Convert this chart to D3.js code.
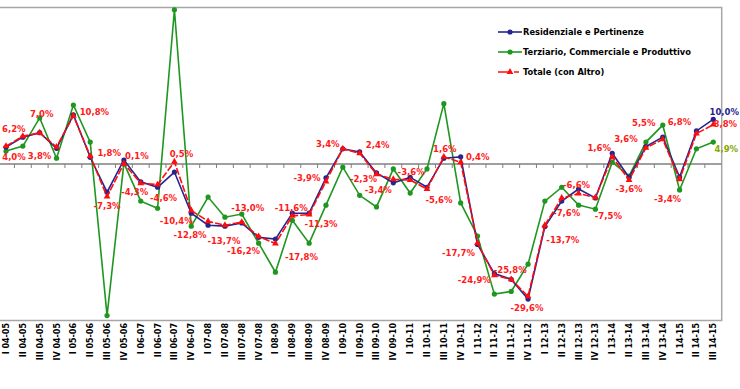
<!DOCTYPE html>
<html><head><meta charset="utf-8">
<script src="https://cdn.jsdelivr.net/npm/d3@7"></script>
<style>body{margin:0;background:#fff;overflow:hidden}svg{display:block}</style>
</head><body>
<svg id="chart" width="740" height="389"></svg>
<script>
const categories = ["I 04-05","II 04-05","III 04-05","IV 04-05","I 05-06","II 05-06","III 05-06","IV 05-06","I 06-07","II 06-07","III 06-07","IV 06-07","I 07-08","II 07-08","III 07-08","IV 07-08","I 08-09","II 08-09","III 08-09","IV 08-09","I 09-10","II 09-10","III 09-10","IV 09-10","I 10-11","II 10-11","III 10-11","IV 10-11","I 11-12","II 11-12","III 11-12","IV 11-12","I 12-13","II 12-13","III 12-13","IV 12-13","I 13-14","II 13-14","III 13-14","IV 13-14","I 14-15","II 14-15","III 14-15"];
const residenziale = [3.8,6.0,7.0,3.5,11.0,1.5,-6.3,0.9,-4.0,-5.2,-1.8,-11.0,-13.7,-13.9,-13.2,-16.4,-16.8,-11.0,-11.0,-3.1,3.4,2.7,-2.0,-4.2,-3.0,-5.2,1.3,1.6,-18.0,-24.5,-25.8,-30.2,-14.0,-8.3,-5.6,-7.6,2.4,-3.0,3.9,6.0,-2.9,7.4,10.0];
const terziario = [2.9,4.0,10.3,1.3,13.2,4.9,-33.9,0.2,-8.3,-9.9,34.5,-13.9,-7.4,-11.9,-11.2,-17.7,-24.2,-12.6,-17.7,-9.2,-0.7,-7.0,-9.6,-1.1,-6.5,-1.1,13.5,-8.7,-16.1,-29.1,-28.5,-22.4,-8.3,-5.2,-9.2,-10.1,0.4,-2.7,4.9,8.7,-5.8,3.4,4.9];
const totale = [4.0,6.2,7.0,3.8,10.8,1.8,-7.3,0.1,-4.3,-4.6,0.5,-10.4,-12.8,-13.7,-13.0,-16.2,-17.8,-11.6,-11.3,-3.9,3.4,2.4,-2.3,-3.4,-3.6,-5.6,1.6,0.4,-17.7,-24.9,-25.8,-29.6,-13.7,-7.6,-6.6,-7.5,1.6,-3.6,3.6,5.5,-3.4,6.8,8.8];
const seriesNames = ["Residenziale e Pertinenze","Terziario, Commerciale e Produttivo","Totale (con Altro)"];
const yDomain = [-35, 35];

(function(){
const fmt = v => d3.format(".1f")(v).replace(".", ",").replace("−","-") + "%";

// label placement offsets (layout only)
const labelOffsets = [[8,14],[-9,-4],[2,-16],[-17,12],[21,-1],[19,0],[0,12],[13,-5],[-6,12],[6,16],[7,-5],[-15,13],[-18,17],[-1,19],[6,-11],[-15,18],[26,16],[-1,-5],[12,12],[-19,0],[-15,-2],[18,-5],[-13,8],[-15,14],[1,-5],[12,14],[1,-5],[17,-2],[-19,13],[-20,8],[-1,-6],[-1,15],[18,18],[5,18],[-2,-6],[13,21],[-13,-6],[0,12],[-20,-6],[-19,-13],[-12,23],[-17,-9],[12,2]];

const svg = d3.select("#chart");
const pL = -2.4, pR = 721.7, pT = 7.5, pB = 320.5;
const x = d3.scaleBand().domain(categories).range([pL, pR]).padding(0);
const y = d3.scaleLinear().domain(yDomain).range([pB, pT]);
const cx = c => x(c) + x.bandwidth()/2;
const FONT = "DejaVu Sans, Verdana, sans-serif";

svg.append("rect").attr("x", pL).attr("y", pT).attr("width", pR-pL).attr("height", pB-pT)
  .attr("fill","none").attr("stroke","#a6a6a6").attr("stroke-width",1.5);

const zeroY = y(0);
svg.append("line").attr("x1", pL).attr("x2", pR).attr("y1", zeroY).attr("y2", zeroY)
  .attr("stroke","#7f7f7f").attr("stroke-width",1.3);
svg.append("g").selectAll("line").data(categories.slice(1)).join("line")
  .attr("x1", d => x(d)).attr("x2", d => x(d)).attr("y1", zeroY).attr("y2", zeroY+4)
  .attr("stroke","#7f7f7f").attr("stroke-width",1);

svg.append("g").selectAll("text").data(categories).join("text")
  .attr("transform", d => `translate(${cx(d)+3},${pB+2.5}) rotate(-90)`)
  .attr("text-anchor","end")
  .attr("font-family",FONT).attr("font-weight","bold")
  .attr("font-size","8px").attr("fill","#000").text(d => d);

const line = d3.line().x((d,i) => cx(categories[i])).y(d => y(d));
const series = [
  {name: seriesNames[1], values: terziario, color:"#1f961f", marker:"circle"},
  {name: seriesNames[0], values: residenziale, color:"#25258f", marker:"circle"},
  {name: seriesNames[2], values: totale, color:"#ff0d0d", marker:"triangle", dash:"7,2"}
];
const tri = d3.symbol().type(d3.symbolTriangle).size(20);

series.forEach(s => {
  svg.append("path").datum(s.values).attr("d", line).attr("fill","none")
    .attr("stroke", s.color).attr("stroke-width", 1.6)
    .attr("stroke-dasharray", s.dash || null);
  const g = svg.append("g");
  if (s.marker === "circle") {
    g.selectAll("circle").data(s.values).join("circle")
      .attr("cx", (d,i) => cx(categories[i])).attr("cy", d => y(d)).attr("r", 2.6).attr("fill", s.color);
  } else {
    g.selectAll("path").data(s.values).join("path")
      .attr("d", tri).attr("transform", (d,i) => `translate(${cx(categories[i])},${y(d)})`).attr("fill", s.color);
  }
});

svg.append("g").selectAll("text").data(totale).join("text")
  .attr("x", (d,i) => cx(categories[i]) + labelOffsets[i][0])
  .attr("y", (d,i) => y(d) + labelOffsets[i][1])
  .attr("text-anchor","middle")
  .attr("font-family",FONT).attr("font-weight","bold")
  .attr("font-size","8.5px").attr("fill","#ff1a1a").text(d => fmt(d));
const last = categories.length - 1;
svg.append("text").attr("x", cx(categories[last]) + 11).attr("y", y(residenziale[last]) - 4)
  .attr("text-anchor","middle").attr("font-family",FONT).attr("font-weight","bold")
  .attr("font-size","8.5px").attr("fill","#1f1f8f").text(fmt(residenziale[last]));
svg.append("text").attr("x", cx(categories[last]) + 13).attr("y", y(terziario[last]) + 10)
  .attr("text-anchor","middle").attr("font-family",FONT).attr("font-weight","bold")
  .attr("font-size","8.5px").attr("fill","#86a800").text(fmt(terziario[last]));

const legendOrder = [series[1], series[0], series[2]];
const lg = svg.append("g").attr("transform","translate(498,32)");
legendOrder.forEach((s,i) => {
  const gy = i*20;
  lg.append("line").attr("x1",0).attr("x2",24).attr("y1",gy).attr("y2",gy)
    .attr("stroke", s.color).attr("stroke-width",1.6).attr("stroke-dasharray", s.dash ? "13,3,5,20" : null);
  if (s.marker === "circle") lg.append("circle").attr("cx",12).attr("cy",gy).attr("r",2.6).attr("fill",s.color);
  else lg.append("path").attr("d",tri).attr("transform",`translate(12,${gy})`).attr("fill",s.color);
  lg.append("text").attr("x",25).attr("y",gy+3).attr("font-family",FONT).attr("font-weight","bold")
    .attr("font-size","8.3px").attr("fill","#000").text(s.name);
});
})();
</script>
</body></html>
